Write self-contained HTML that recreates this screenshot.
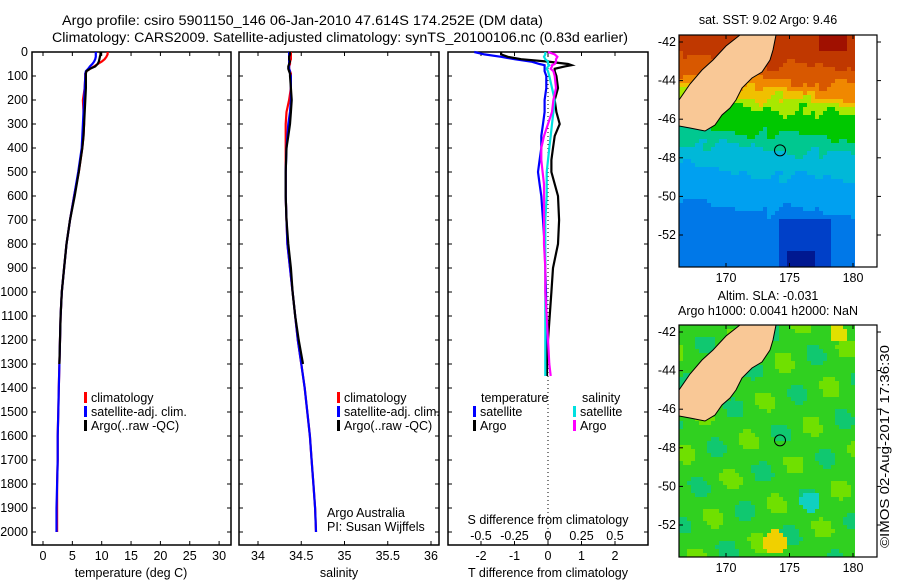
<!DOCTYPE html>
<html><head><meta charset="utf-8"><style>
html,body{margin:0;padding:0;background:#fff;width:900px;height:580px;overflow:hidden}
svg{font-family:"Liberation Sans",sans-serif;display:block}
text{font-size:12.5px;fill:#000}
</style></head><body>
<svg id="fig" width="900" height="580" viewBox="0 0 900 580" xmlns="http://www.w3.org/2000/svg">
<text x="62" y="25" textLength="481" lengthAdjust="spacingAndGlyphs" style="font-size:13.5px">Argo profile: csiro 5901150_146 06-Jan-2010 47.614S 174.252E (DM data)</text>
<text x="52" y="42" textLength="576" lengthAdjust="spacingAndGlyphs" style="font-size:13.5px">Climatology: CARS2009. Satellite-adjusted climatology: synTS_20100106.nc (0.83d earlier)</text>
<g id="plots"></g>
<g id="maps"></g>
<text transform="translate(889,548) rotate(-90)" textLength="203" lengthAdjust="spacingAndGlyphs" style="font-size:13px">©IMOS 02-Aug-2017 17:36:30</text>
</svg>
<script>
// ---- profile data ----
const tDepth = [0,10,20,30,40,50,60,70,80,90,100,150,200,250,300,350,400,500,600,700,800,900,1000,1100,1200,1300,1400,1500,1600,1700,1800,1900,2000];
const tArgo = [9.8,9.8,9.7,9.6,9.5,9.3,8.9,8.0,7.4,7.3,7.3,7.3,7.2,7.1,7.0,6.9,6.7,6.1,5.4,4.6,4.0,3.6,3.2,3.0,2.9,2.8];
const tClim = [11.0,11.0,10.8,10.5,10.0,9.3,8.7,8.0,7.4,7.2,7.2,7.1,6.8,6.9,7.0,6.9,6.7,6.1,5.3,4.6,4.0,3.6,3.2,3.0,2.9,2.8,2.7,2.6,2.5,2.5,2.4,2.4,2.4];
const tSat = [9.0,9.0,9.0,8.9,8.7,8.4,8.0,7.7,7.3,7.2,7.2,7.1,7.0,6.9,6.8,6.7,6.6,6.0,5.3,4.6,4.0,3.6,3.2,3.0,2.9,2.8,2.7,2.6,2.5,2.5,2.4,2.3,2.3];
const sArgo = [34.37,34.37,34.36,34.36,34.37,34.36,34.35,34.35,34.36,34.37,34.37,34.38,34.39,34.38,34.37,34.35,34.33,34.32,34.32,34.33,34.35,34.38,34.40,34.43,34.47,34.52];
const sClim = [34.38,34.38,34.38,34.38,34.37,34.37,34.36,34.36,34.37,34.38,34.38,34.38,34.36,34.33,34.32,34.32,34.32,34.32,34.32,34.33,34.34,34.37,34.40,34.43,34.46,34.50,34.54,34.57,34.60,34.62,34.64,34.66,34.67];
const sSat = [34.36,34.36,34.36,34.36,34.36,34.36,34.36,34.36,34.37,34.37,34.38,34.38,34.38,34.37,34.35,34.34,34.33,34.32,34.32,34.33,34.34,34.37,34.40,34.43,34.46,34.50,34.54,34.57,34.60,34.62,34.64,34.66,34.67];
const dDepth = [0,10,20,30,40,50,55,60,70,80,100,150,200,250,300,350,400,450,500,550,600,700,800,900,1000,1100,1200,1300,1350];
const dTArgo = [-1.4,-1.4,-1.2,-0.8,0.0,0.6,0.7,0.5,0.2,0.2,0.25,0.3,0.2,0.25,0.35,0.2,0.15,0.1,0.1,0.2,0.3,0.33,0.3,0.15,0.1,0.05,0.0,-0.03,-0.03];
const dTSat = [-2.2,-1.9,-1.4,-1.0,-0.5,-0.25,-0.1,-0.1,-0.1,-0.1,-0.05,-0.05,-0.1,-0.1,-0.15,-0.2,-0.2,-0.25,-0.3,-0.25,-0.2,-0.15,-0.1,-0.08,-0.06,-0.05,-0.05,-0.05,-0.05];
const dSSat = [-0.02,-0.02,-0.03,-0.02,0.0,0.0,0.01,0.0,-0.01,0.0,0.01,0.03,0.05,0.04,0.03,0.02,0.01,0.0,-0.01,-0.01,-0.01,-0.02,-0.02,-0.02,-0.02,-0.02,-0.02,-0.02,-0.02];
const dSArgo = [0.0,0.05,0.07,0.06,0.06,0.05,0.03,0.03,0.02,0.04,0.05,0.06,0.04,0.03,0.0,-0.03,-0.05,-0.05,-0.04,-0.03,-0.03,-0.03,-0.03,-0.02,-0.02,-0.01,0.0,0.01,0.02];
const depthTicks = [0,100,200,300,400,500,600,700,800,900,1000,1100,1200,1300,1400,1500,1600,1700,1800,1900,2000];
const tTicks = [0,5,10,15,20,25,30];
const sTicks = [34,34.5,35,35.5,36];
const dTTicks = [-2,-1,0,1,2];
const dSTicks = [-0.5,-0.25,0,0.25,0.5];
const dSTickLabels = ["-0.5","-0.25","0","0.25","0.5"];
const lonTicks=[170,175,180];
const latTicks=[-42,-44,-46,-48,-50,-52];

const NS="http://www.w3.org/2000/svg";
function mk(tag,attrs,parent){const e=document.createElementNS(NS,tag);for(const k in attrs)e.setAttribute(k,attrs[k]);parent.appendChild(e);return e;}
const plots=document.getElementById('plots');
const yD = d => 52 + d*0.24;
const TOP=52, BOT=545;
const xT = v => 43 + v*5.87;
const xS = v => 258 + (v-34)*86.5;
const xDT = v => 548 + v*33.5;
const xDS = v => 548 + v*134;

function panel(name,x0,x1,leftLabels){
  const g=mk('g',{},plots);
  
  
  const r=mk('rect',{x:x0,y:TOP,width:x1-x0,height:BOT-TOP,fill:'none',stroke:'#000','stroke-width':1.5},g);
  
  
  depthTicks.forEach(d=>{
    const y=yD(d);
    mk('line',{x1:x0,x2:x0+4,y1:y,y2:y,stroke:'#000'},g);
    mk('line',{x1:x1,x2:x1-4,y1:y,y2:y,stroke:'#000'},g);
    if(leftLabels){const t=mk('text',{x:x0-4,y:y+4,'text-anchor':'end'},g);t.textContent=d;
      
      }
  });
  return g;
}
function xticks(g,ticks,labels,sc,ly){
  ticks.forEach((v,i)=>{const x=sc(v);
    mk('line',{x1:x,x2:x,y1:BOT,y2:BOT-4,stroke:'#000'},g);
    mk('line',{x1:x,x2:x,y1:TOP,y2:TOP+4,stroke:'#000'},g);
    const t=mk('text',{x:x,y:ly,'text-anchor':'middle'},g);t.textContent=labels?labels[i]:v;
    
    
  });
}
function line(g,xs,ds,sc,color,name){
  const pts=xs.map((v,i)=>sc(v).toFixed(1)+','+yD(ds[i]).toFixed(1)).join(' ');
  const p=mk('polyline',{points:pts,fill:'none',stroke:color,'stroke-width':2.2},g);
  
  
}
function text(g,x,y,s,name,anchor){const t=mk('text',{x:x,y:y,'text-anchor':anchor||'start'},g);t.textContent=s;
  
  return t;}
function legend(g,x,y,color,label){
  mk('rect',{x:x,y:y-10,width:3,height:11,fill:color},g);
  text(g,x+7,y,label,'legend-entry');
}
// panel 1
const p1=panel('temperature-panel',32,231,true);
xticks(p1,tTicks,null,xT,560);
text(p1,131,577,'temperature (deg C)','x-axis-title','middle');
line(p1,tClim,tDepth,xT,'#ff0000','temperature-climatology-line');
line(p1,tSat,tDepth,xT,'#0000ff','temperature-satellite-line');
line(p1,tArgo,tDepth,xT,'#000000','temperature-argo-line');
legend(p1,84,402,'#ff0000','climatology');
legend(p1,84,416,'#0000ff','satellite-adj. clim.');
legend(p1,84,430,'#000000','Argo(..raw -QC)');
// panel 2
const p2=panel('salinity-panel',239,439,false);
xticks(p2,sTicks,null,xS,560);
text(p2,339,577,'salinity','x-axis-title','middle');
line(p2,sClim,tDepth,xS,'#ff0000','salinity-climatology-line');
line(p2,sSat,tDepth,xS,'#0000ff','salinity-satellite-line');
line(p2,sArgo,tDepth,xS,'#000000','salinity-argo-line');
legend(p2,337,402,'#ff0000','climatology');
legend(p2,337,416,'#0000ff','satellite-adj. clim.');
legend(p2,337,430,'#000000','Argo(..raw -QC)');
text(p2,327,517,'Argo Australia','credit-text');
text(p2,327,531,'PI: Susan Wijffels','credit-text');
// panel 3
const p3=panel('difference-panel',448,648,false);
mk('line',{x1:548,x2:548,y1:TOP,y2:BOT,stroke:'#000','stroke-dasharray':'1,3'},p3);
xticks(p3,dTTicks,null,xDT,560);
dSTicks.forEach((v,i)=>{text(p3,xDS(v),540,dSTickLabels[i],'s-tick-label','middle');});
text(p3,548,524,'S difference from climatology','s-axis-title','middle');
text(p3,548,577,'T difference from climatology','x-axis-title','middle');
line(p3,dTSat,dDepth,xDT,'#0000ff','dT-satellite-line');
line(p3,dTArgo,dDepth,xDT,'#000000','dT-argo-line');
line(p3,dSSat,dDepth,xDS,'#00e0e0','dS-satellite-line');
line(p3,dSArgo,dDepth,xDS,'#ff00ff','dS-argo-line');
text(p3,481,402,'temperature','legend-title');
text(p3,582,402,'salinity','legend-title');
legend(p3,473,416,'#0000ff','satellite');
legend(p3,573,416,'#00e0e0','satellite');
legend(p3,473,430,'#000000','Argo');
legend(p3,573,430,'#ff00ff','Argo');

// ---- maps ----
const maps=document.getElementById('maps');
const mxl = lon => 726 + (lon-170)*12.7;
const myl = lat => 42 + (-42-lat)*19.3;
function land(g,off){
  const pts=[[740,35],[776,35],[773,50],[770,60],[762,72],[752,78],[742,88],[736,100],[730,108],[722,115],[715,125],[705,131],[690,128],[679,126],[679,100],[690,84],[702,70],[713,60],[726,46]];
  const p=mk('polygon',{points:pts.map(p=>p[0]+','+(p[1]+off)).join(' '),fill:'#f9c896',stroke:'#000','stroke-width':1},g);
  
  
  const c=mk('circle',{cx:mxl(174.252),cy:myl(-47.614)+off,r:5.5,fill:'none',stroke:'#000','stroke-width':1},g);
  
  
}
function noise(x,y){return Math.sin(x*0.21+y*0.09)*3+Math.sin(x*0.07-y*0.17)*4+Math.sin(x*0.37+y*0.31)*2;}
function sstColor(x,y){
  const yy=y+noise(x,y) - (x-679)*0.08;
  if(y<50 && x>815 && x<845) return '#a01000';
  if(yy<55) return '#c03800';
  if(yy<70) return '#d85800';
  if(yy<82) return '#f08800';
  if(yy<90) return '#f0c000';
  if(yy<100) return '#a8e800';
  if(yy<125) return '#00c800';
  if(yy<140) return '#00c890';
  if(yy<165) return '#00b8d8';
  if(y>215 && x>775 && x<830) return y>248&&x>785&&x<815?'#001890':'#0040c8';
  if(yy<200) return '#00a0f0';
  return '#0078e8';
}
function slaColor(x,y){
  const n=Math.sin(x*0.11+y*0.05)+Math.sin(x*0.07-y*0.13);
  if(Math.hypot(x-773,y-250)<12) return '#f0d000';
  if(Math.hypot(x-836,y-42)<9) return '#e0e000';
  if(Math.hypot(x-808,y-210)<10) return '#10d0c0';
  if(n>1.2) return '#70e000';
  if(n<-1.2) return '#10c870';
  return '#30d020';
}
function map(name,off,colorFn,t1,t2){
  const g=mk('g',{},maps);
  
  
  for(let y=35;y<267;y+=4){for(let x=679;x<855;x+=4){
    mk('rect',{x:x,y:y+off,width:4,height:4,fill:colorFn(x,y)},g);
  }}
  land(g,off);
  mk('rect',{x:679,y:35+off,width:198,height:232,fill:'none',stroke:'#000','stroke-width':1.2},g);
  lonTicks.forEach(v=>{const x=mxl(v);
    mk('line',{x1:x,x2:x,y1:35+off,y2:39+off,stroke:'#000'},g);
    mk('line',{x1:x,x2:x,y1:267+off,y2:263+off,stroke:'#000'},g);
    text(g,x,282+off,String(v),'lon-tick-label','middle');});
  latTicks.forEach(v=>{const y=myl(v)+off;
    mk('line',{x1:679,x2:683,y1:y,y2:y,stroke:'#000'},g);
    mk('line',{x1:877,x2:881,y1:y,y2:y,stroke:'#000'},g);
    text(g,676,y+4,String(v),'lat-tick-label','end');});
  if(t1) text(g,768,off+(t2?10:24),t1,'map-title','middle');
  if(t2) text(g,768,off+25,t2,'map-title','middle');
}
map('sst-map',0,sstColor,'sat. SST: 9.02 Argo: 9.46',null);
map('sla-map',290,slaColor,'Altim. SLA: -0.031','Argo h1000: 0.0041 h2000: NaN');
</script>
</body></html>
